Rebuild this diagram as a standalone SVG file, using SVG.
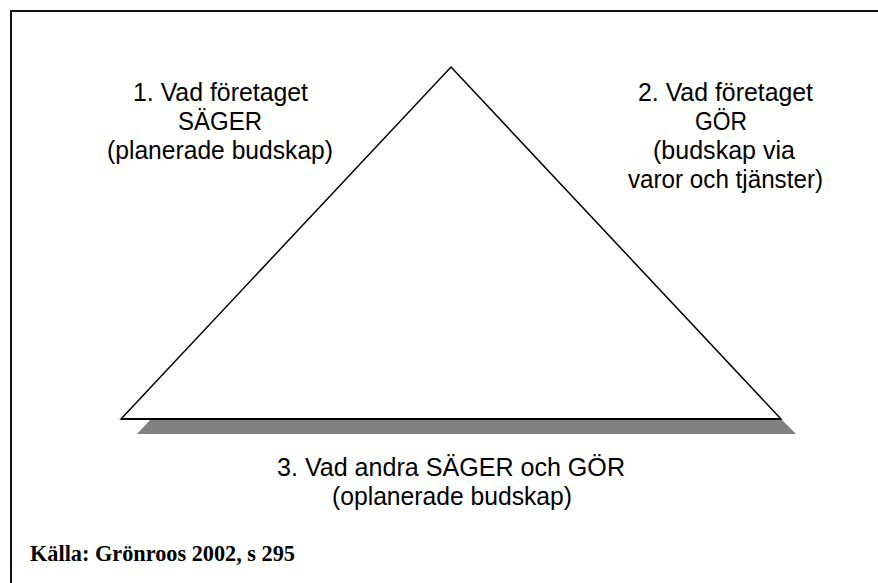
<svg xmlns="http://www.w3.org/2000/svg" width="878" height="583" viewBox="0 0 878 583">
  <style>
    .lbl { font-family: "Liberation Sans", Arial, sans-serif; font-size: 26px; fill: #000; text-anchor: middle; }
    .src { font-family: "Liberation Serif", "Times New Roman", serif; font-size: 23px; font-weight: bold; fill: #000; }
    .frame { fill: none; stroke: #111; stroke-width: 2; }
    .tri { fill: #fff; stroke: #000; stroke-width: 1.5; stroke-linejoin: miter; }
    .shadow { fill: #808080; stroke: none; }
  </style>
  <rect width="878" height="583" fill="#fff"/>
  <path class="frame" d="M11,584 V11 H879"/>
  <g id="triangle">
    <polygon class="shadow" points="150,420 782,420 796,434 137,434"/>
    <polygon class="tri" points="451,67 781,419 121,419"/>
    <line x1="121" y1="419" x2="781" y2="419" stroke="#000" stroke-width="2"/>
  </g>
  <g id="node1">
    <text class="lbl" x="220.5" y="101" textLength="175" lengthAdjust="spacingAndGlyphs">1. Vad företaget</text>
    <text class="lbl" x="220" y="130" textLength="84" lengthAdjust="spacingAndGlyphs">SÄGER</text>
    <text class="lbl" x="220" y="159" textLength="226" lengthAdjust="spacingAndGlyphs">(planerade budskap)</text>
  </g>
  <g id="node2">
    <text class="lbl" x="725.5" y="101" textLength="175" lengthAdjust="spacingAndGlyphs">2. Vad företaget</text>
    <text class="lbl" x="721" y="130" textLength="52" lengthAdjust="spacingAndGlyphs">GÖR</text>
    <text class="lbl" x="724" y="159" textLength="142" lengthAdjust="spacingAndGlyphs">(budskap via</text>
    <text class="lbl" x="725.5" y="188" textLength="195" lengthAdjust="spacingAndGlyphs">varor och tjänster)</text>
  </g>
  <g id="node3">
    <text class="lbl" x="451" y="476" textLength="348" lengthAdjust="spacingAndGlyphs">3. Vad andra SÄGER och GÖR</text>
    <text class="lbl" x="452" y="505" textLength="240" lengthAdjust="spacingAndGlyphs">(oplanerade budskap)</text>
  </g>
  <g id="connectors"/>
  <text class="src" x="30" y="561" textLength="265" lengthAdjust="spacingAndGlyphs">Källa: Grönroos 2002, s 295</text>
</svg>
